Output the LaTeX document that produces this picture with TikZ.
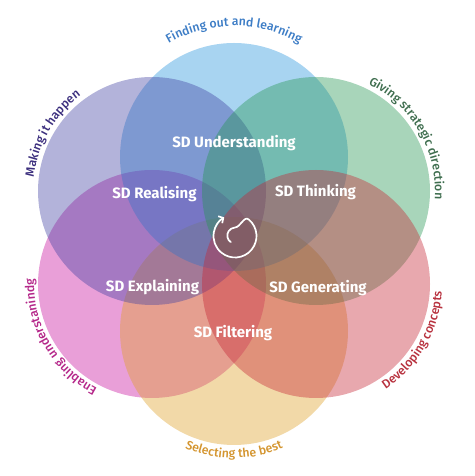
\documentclass[tikz,border=0pt]{standalone}
\usepackage{fontspec}
\setmainfont{Fira Sans}
\newfontfamily\arcfont{Fira Sans Medium}
\usetikzlibrary{decorations.text,arrows.meta}
\definecolor{cblue}{RGB}{38,148,222}
\definecolor{cpurple}{RGB}{65,65,163}
\definecolor{cgreen}{RGB}{38,150,83}
\definecolor{cpink}{RGB}{200,15,158}
\definecolor{cred}{RGB}{198,38,53}
\definecolor{corange}{RGB}{223,160,38}
\definecolor{tblue}{RGB}{61,125,198}
\definecolor{tpurple}{RGB}{60,47,126}
\definecolor{tgreen}{RGB}{63,110,79}
\definecolor{tpink}{RGB}{181,40,138}
\definecolor{tred}{RGB}{184,50,63}
\definecolor{torange}{RGB}{212,149,47}
\begin{document}
\begin{tikzpicture}[x=1pt,y=1pt,
  petal/.style={fill=#1, fill opacity=0.4, draw=none},
  sdlabel/.style={text=white, font=\bfseries\fontsize{15}{16}\selectfont, anchor=base, inner sep=0pt},
  arclabel/.style 2 args={decorate, decoration={text along path, text align=center,
      text={|\color{#1}\arcfont\fontsize{12.3}{12}\selectfont|#2}}}
  ]
\useasboundingbox (0,0) rectangle (474,476);
\fill[white] (0,0) rectangle (474,476);
\coordinate (cT) at (234,319);
\coordinate (cUL) at (152,285);
\coordinate (cUR) at (316,285);
\coordinate (cLL) at (152,192);
\coordinate (cLR) at (316,192);
\coordinate (cB) at (234,145);
\coordinate (sp) at (235,240);
% circles (drawing order matters for the overlaps)
\fill[petal=cpink] (cLL) circle[radius=114];
\fill[petal=corange] (cB) circle[radius=114];
\fill[petal=cblue] (cT) circle[radius=114];
\fill[petal=cpurple] (cUL) circle[radius=114];
\fill[petal=cgreen] (cUR) circle[radius=114];
\fill[petal=cred] (cLR) circle[radius=114];
% arc labels
\path[arclabel={tblue}{Finding out and learning}] ([shift={(150:131)}]cT) arc[start angle=150, end angle=30, radius=131];
\path[arclabel={tpurple}{Making it happen}] ([shift={(210:119)}]cUL) arc[start angle=210, end angle=90, radius=119];
\path[arclabel={tgreen}{Giving strategic direction}] ([shift={(90:119)}]cUR) arc[start angle=90, end angle=-30, radius=119];
\path[arclabel={tpink}{Enabling understanindg}] ([shift={(270:118)}]cLL) arc[start angle=270, end angle=150, radius=118];
\path[arclabel={torange}{Selecting the best}] ([shift={(210:127)}]cB) arc[start angle=210, end angle=330, radius=127];
\path[arclabel={tred}{Developing concepts}] ([shift={(270:126)}]cLR) arc[start angle=270, end angle=390, radius=126];
% SD labels
\node[sdlabel] (und) at (234,328) {SD Understanding};
\node[sdlabel] (rea) at (154.5,277) {SD Realising};
\node[sdlabel] (thi) at (315.5,279) {SD Thinking};
\node[sdlabel] (exp) at (152.5,184) {SD Explaining};
\node[sdlabel] (gen) at (318,183) {SD Generating};
\node[sdlabel] (fil) at (233,138) {SD Filtering};
% spiral
\draw[white, line width=1.7pt, line cap=round, -{Straight Barb[length=3.5pt,width=8pt]}]
  ([shift={(235:7.5)}]sp) arc[start angle=235, end angle=95, radius=8]
  to[out=5, in=140] ([shift={(50:21.5)}]sp)
  arc[start angle=50, end angle=-240, radius=21.5];
\end{tikzpicture}
\end{document}
